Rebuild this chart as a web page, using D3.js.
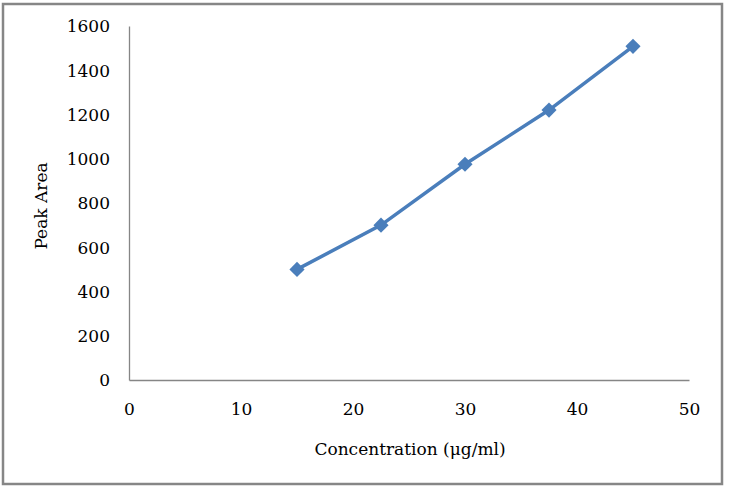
<!DOCTYPE html>
<html>
<head>
<meta charset="utf-8">
<style>
body { margin: 0; background: #fff; }
svg { font-family: "DejaVu Serif", serif; }
</style>
</head>
<body>
<svg width="735" height="490"></svg>
<script src="https://d3js.org/d3.v7.min.js"></script>
<script>

// data
var concentration = [15, 22.5, 30, 37.5, 45];
var peakArea = [500, 700, 975, 1220, 1508];
var xTicks = [0, 10, 20, 30, 40, 50];
var yTicks = [0, 200, 400, 600, 800, 1000, 1200, 1400, 1600];

var svg = d3.select("svg");

// outer chart frame
svg.append("rect")
    .attr("x", 3).attr("y", 4)
    .attr("width", 719).attr("height", 480)
    .attr("fill", "#fff")
    .attr("stroke", "#868686")
    .attr("stroke-width", 2.5);

var x = d3.scaleLinear().domain([0, 50]).range([129, 689]),
    y = d3.scaleLinear().domain([0, 1600]).range([380, 26]);

var xAxis = svg.append("g")
    .attr("transform", "translate(0," + y(0) + ")")
    .call(d3.axisBottom(x).tickValues(xTicks).tickFormat(d3.format("d")).tickSize(0).tickPadding(23));

var yAxis = svg.append("g")
    .attr("transform", "translate(" + x(0) + ",0)")
    .call(d3.axisLeft(y).tickValues(yTicks).tickFormat(d3.format("d")).tickSize(0).tickPadding(19));

[xAxis, yAxis].forEach(function(g) {
  g.select(".domain").attr("stroke", "#868686").attr("stroke-width", 1.3);
  g.selectAll("text")
      .attr("font-family", "DejaVu Serif, serif")
      .attr("font-size", "17px")
      .attr("fill", "#000");
});
yAxis.selectAll("text").attr("dy", "0.35em");

var line = d3.line()
    .x(function(d, i) { return x(concentration[i]); })
    .y(function(d) { return y(d); });

svg.append("path")
    .datum(peakArea)
    .attr("fill", "none")
    .attr("stroke", "#4a7ebb")
    .attr("stroke-width", 3.5)
    .attr("d", line);

// diamond markers: squares turned 45 degrees
svg.selectAll(".pt")
    .data(peakArea)
  .enter().append("path")
    .attr("class", "pt")
    .attr("transform", function(d, i) { return "translate(" + x(concentration[i]) + "," + y(d) + ") rotate(45)"; })
    .attr("d", d3.symbol().type(d3.symbolSquare).size(115))
    .attr("fill", "#4a7ebb");

// axis titles
svg.append("text")
    .attr("x", 410).attr("y", 455)
    .attr("text-anchor", "middle")
    .attr("font-size", "17px")
    .text("Concentration (μg/ml)");

svg.append("text")
    .attr("transform", "translate(47,206) rotate(-90)")
    .attr("text-anchor", "middle")
    .attr("font-size", "17px")
    .text("Peak Area");

</script>
</body>
</html>
